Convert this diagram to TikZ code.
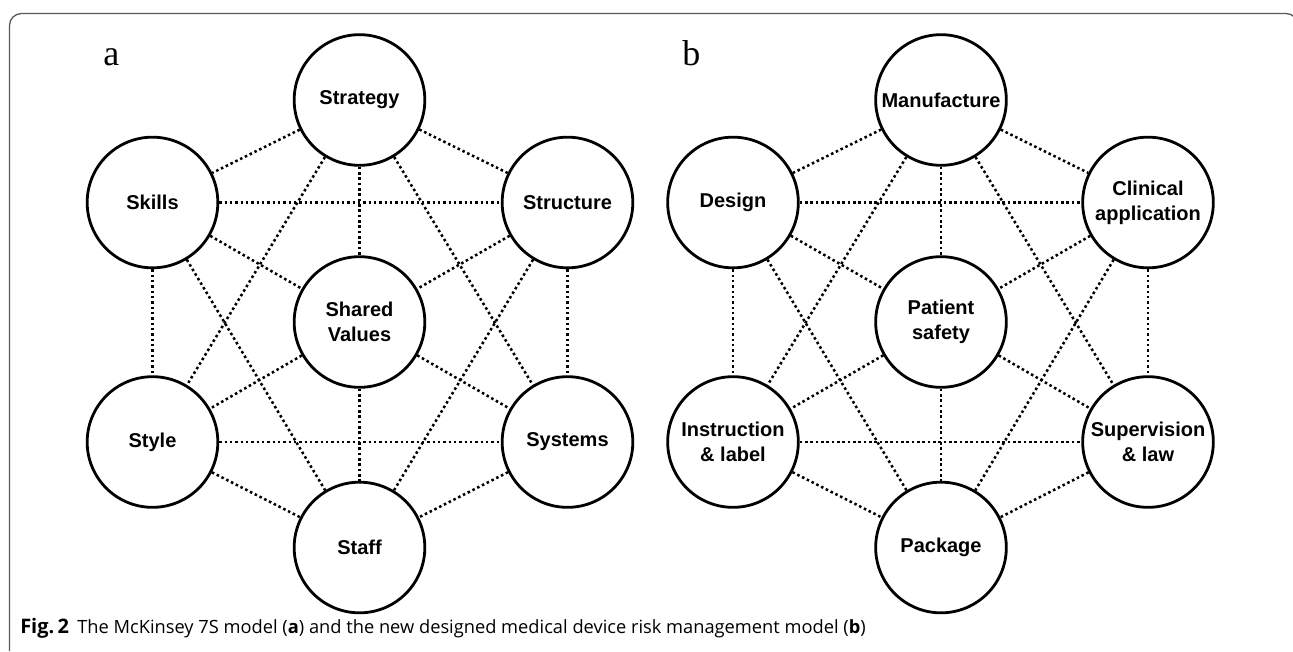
\documentclass[tikz,border=0pt]{standalone}
\usepackage{fontspec}
\setmainfont{Liberation Sans}
\newfontfamily\seriffont{Liberation Serif}
\newfontfamily\capfont{Open Sans}
\begin{document}
\begin{tikzpicture}[x=0.75pt,y=-0.75pt,
  circ/.style={circle,draw,line width=2.1pt,minimum size=98pt,inner sep=0pt,fill=white,align=center,
    font=\bfseries\fontsize{15}{18.5}\selectfont},
  link/.style={line width=1.9pt,dash pattern=on 1.9pt off 2.1pt},
  frameline/.style={draw=black!65,line width=1pt,rounded corners=9pt},
  panellabel/.style={anchor=base west,inner sep=0pt,font=\seriffont\fontsize{27}{30}\selectfont},
  captext/.style={anchor=base west,inner sep=0pt,font=\capfont\fontsize{13.7}{16}\selectfont}]
\useasboundingbox (0,0) rectangle (1293,651);
\draw[frameline] (9.5,651) -- (9.5,13.5) -- (1298,13.5) -- (1298,651);

% panel a
\node[panellabel] (la) at (103,65) {a};
\node[circ] (aT)  at (359.5,100)   {Strategy};
\node[circ] (aUL) at (152.5,202.5) {Skills};
\node[circ] (aUR) at (567.5,202.5) {Structure};
\node[circ] (aC)  at (359.5,322)   {Shared\\Values};
\node[circ] (aLL) at (152.5,442)   {Style};
\node[circ] (aLR) at (567.5,442)   {Systems};
\node[circ] (aB)  at (359.5,547.5) {Staff};

% panel b
\node[panellabel] (lb) at (682,65) {b};
\node[circ] (bT)  at (941,100)   {Manufacture};
\node[circ] (bUL) at (733,202.5) {Design};
\node[circ] (bUR) at (1148,202.5) {Clinical\\application};
\node[circ] (bC)  at (941,322)   {Patient\\safety};
\node[circ] (bLL) at (733,442)   {Instruction\\\& label};
\node[circ] (bLR) at (1148,442)  {Supervision\\\& law};
\node[circ] (bB)  at (941,547.5) {Package};

\foreach \p in {a,b}{
  \foreach \u/\v in {T/UL,T/UR,T/C,T/LL,T/LR,UL/UR,UL/C,UL/LL,UL/B,UR/C,UR/LR,UR/B,C/LL,C/LR,C/B,LL/LR,LL/B,LR/B}{
    \draw[link] (\p\u) -- (\p\v);
  }
}

\node[captext] (cap) at (20,633) {{\fontsize{15}{16}\selectfont\bfseries Fig.\,2}\hspace{0.45em}The McKinsey 7S model (\textbf{a}) and the new designed medical device risk management model (\textbf{b})};
\end{tikzpicture}
\end{document}
